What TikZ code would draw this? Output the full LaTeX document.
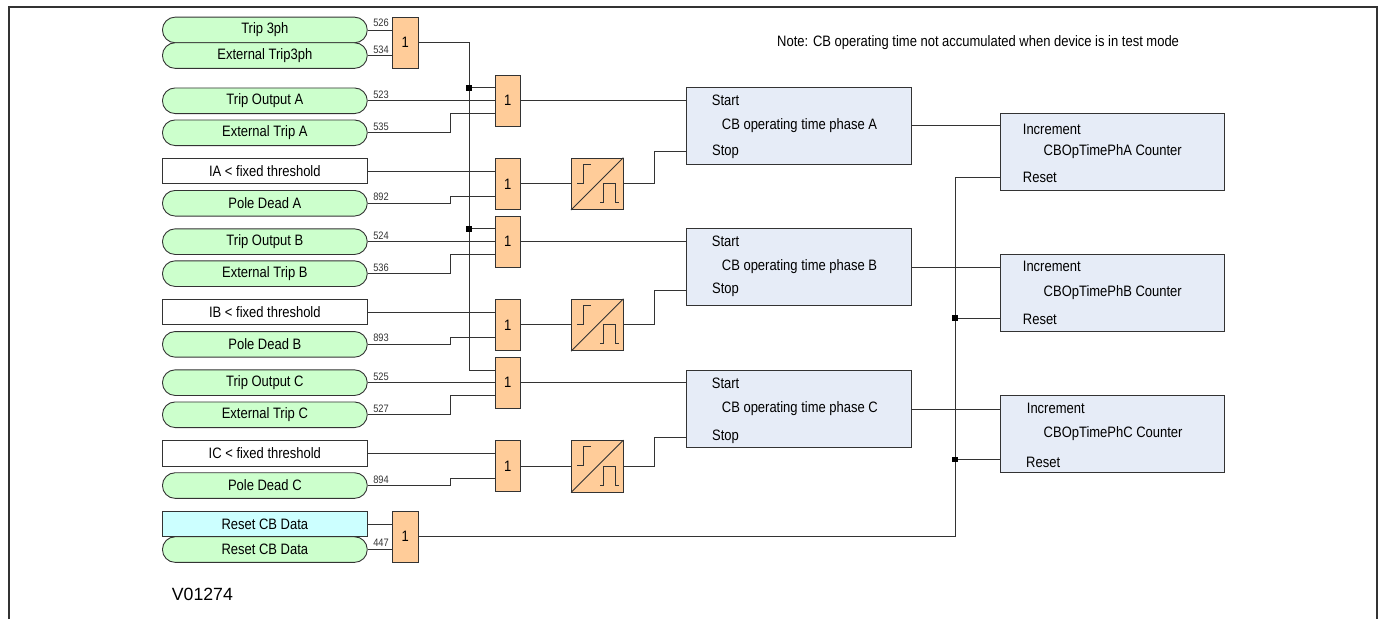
\documentclass[tikz,border=0pt]{standalone}
\usepackage{fontspec}
\setmainfont{Liberation Sans}[FakeStretch=0.86]
\newfontfamily\verfont{Liberation Sans}
\definecolor{ln}{HTML}{333333}
\definecolor{pillg}{HTML}{CCFFCC}
\definecolor{cyanb}{HTML}{CCFFFF}
\definecolor{orng}{HTML}{FFCC99}
\definecolor{blok}{HTML}{E6ECF7}
\newcommand\txtsize{\fontsize{15.1}{17}\selectfont}
\newcommand\swicon[1]{%
  \draw[wire] (#1.south west) -- (#1.north east);
  \draw[wire] ([shift={(6.3,25.7)}]#1.north west) -- ++(6,0) -- ++(0,-19) -- ++(7.4,0);
  \draw[wire] ([shift={(29,45)}]#1.north west) -- ++(3.3,0) -- ++(0,-19) -- ++(11.7,0) -- ++(0,19) -- ++(4.3,0);}
\begin{document}
\begin{tikzpicture}[x=1pt,y=-1pt,
  base/.style={draw=ln,line width=0.9pt,inner sep=0pt,anchor=north west,font=\txtsize},
  pill/.style={base,rounded corners=12.7pt,fill=pillg,minimum width=204.8pt,minimum height=25.6pt},
  whitebox/.style={base,fill=white,minimum width=204.8pt,minimum height=25.6pt},
  cyanbox/.style={base,fill=cyanb,minimum width=204.8pt,minimum height=25.6pt},
  gate/.style={base,fill=orng,minimum width=25.6pt,minimum height=51.2pt},
  swbox/.style={base,fill=orng,minimum width=51.5pt,minimum height=51.5pt},
  block/.style={base,fill=blok,minimum width=224.5pt,minimum height=77pt},
  counter/.style={base,fill=blok,minimum width=224.3pt,minimum height=77.3pt},
  wire/.style={draw=ln,line width=0.9pt},
  dot/.style={fill=black,inner sep=0pt,minimum size=5.5pt},
  num/.style={font=\fontsize{10.8}{12}\selectfont,text=ln,inner sep=0pt},
  lab/.style={font=\txtsize,inner sep=0pt,anchor=west}]
\useasboundingbox (0,0) rectangle (1384,619);
\draw[draw=ln,line width=2pt] (8.5,619) -- (8.5,6.5) -- (1377,6.5) -- (1377,619);
% left column
\node[pill] (t3) at (162,16.7) {Trip 3ph};
\node[pill] (e3) at (162,42.3) {External Trip3ph};
\node[pill] (tA) at (162,87.5) {Trip Output A};
\node[pill] (eA) at (162,119.5) {External Trip A};
\node[whitebox] (iA) at (162,157.7) {IA < fixed threshold};
\node[pill] (pA) at (162,190) {Pole Dead A};
\node[pill] (tB) at (162,228.4) {Trip Output B};
\node[pill] (eB) at (162,260.4) {External Trip B};
\node[whitebox] (iB) at (162,298.8) {IB < fixed threshold};
\node[pill] (pB) at (162,331.1) {Pole Dead B};
\node[pill] (tC) at (162,369.4) {Trip Output C};
\node[pill] (eC) at (162,401.5) {External Trip C};
\node[whitebox] (iC) at (162,440) {IC < fixed threshold};
\node[pill] (pC) at (162,472.3) {Pole Dead C};
\node[pill] (rp) at (162,536.3) {Reset CB Data};
\node[cyanbox] (rb) at (162,510.7) {Reset CB Data};
% gates
\node[gate] (g3) at (392,16.7) {1};
\node[gate] (gA) at (494.5,74.6) {1};
\node[gate] (hA) at (494.5,157.8) {1};
\node[gate] (gB) at (494.5,215.5) {1};
\node[gate] (hB) at (494.5,298.8) {1};
\node[gate] (gC) at (494.5,356.7) {1};
\node[gate] (hC) at (494.5,440) {1};
\node[gate] (gR) at (392,510.7) {1};
% switching elements
\node[swbox] (sA) at (571,157.7) {};
\node[swbox] (sB) at (571,298.8) {};
\node[swbox] (sC) at (571,440) {};
\swicon{sA}\swicon{sB}\swicon{sC}
% blocks
\node[block] (bA) at (686.2,87.3) {};
\node[block] (bB) at (686.2,228.4) {};
\node[block] (bC) at (686.2,369.7) {};
\node[counter] (cA) at (999.8,112.7) {};
\node[counter] (cB) at (999.8,254) {};
\node[counter] (cC) at (999.8,395) {};
% block text
\foreach \n/\l/\sy/\my/\ty in {A/A/100/125.5/151.7,B/B/241.7/267/290,C/C/383/409/437}{
  \node[lab] (st\n) at (711.7,\sy) {Start};
  \node[lab] (md\n) at (721.7,\my) {CB operating time phase \l};
  \node[lab] (sp\n) at (712,\ty) {Stop};
}
\node[lab] (inA) at (1022.7,129) {Increment};
\node[lab] (ctA) at (1043.5,151.7) {CBOpTimePhA Counter};
\node[lab] (reA) at (1022.7,177.7) {Reset};
\node[lab] (inB) at (1022.7,266.7) {Increment};
\node[lab] (ctB) at (1043.5,292.7) {CBOpTimePhB Counter};
\node[lab] (reB) at (1022.7,319) {Reset};
\node[lab] (inC) at (1026.7,408) {Increment};
\node[lab] (ctC) at (1043.5,433.3) {CBOpTimePhC Counter};
\node[lab] (reC) at (1026,462) {Reset};
\node[lab] (note) at (777,43) {Note: CB operating time not accumulated when device is in test mode};
\node[lab,font=\verfont\fontsize{17.7}{20}\selectfont] (ver) at (171.7,594) {V01274};
% numbers
\foreach \nm/\y/\t in {n1/23/526,n2/50/534,n3/94.5/523,n4/127/535,n5/197/892,n6/236/524,n7/268/536,n8/338/893,n9/377/525,n10/409/527,n11/479.5/894,n12/543/447}{
  \node[num] (\nm) at (381,\y) {\t};
}
% input wires
\draw[wire] (t3.east) -- (t3.east -| g3.west);
\draw[wire] (e3.east) -- (e3.east -| g3.west);
\draw[wire] (rb.east) -- (rb.east -| gR.west);
\draw[wire] (rp.east) -- (rp.east -| gR.west);
\foreach \p in {A,B,C}{
  \draw[wire] (t\p.east) -- (t\p.east -| g\p.west);
  \draw[wire] (e\p.east) -- ++(83.2,0) |- ([yshift=-12.8pt]g\p.west);
  \draw[wire] (i\p.east) -- (i\p.east -| h\p.west);
  \draw[wire] (p\p.east) -- ++(83.2,0) |- ([yshift=-12.8pt]h\p.west);
  \draw[wire] (g\p.east) -- (b\p.west |- g\p.east);
  \draw[wire] (h\p.east) -- (h\p.east -| s\p.west);
  \draw[wire] (s\p.east |- h\p.east) -- ++(31.3,0) |- (b\p.west |- sp\p);
  \draw[wire] (b\p.east |- md\p) -- (c\p.west |- md\p);
}
% trip bus
\coordinate (busT) at (469,42.3);
\coordinate (busC) at ([yshift=12.8pt]gC.west -| busT);
\draw[wire] (g3.east) -- (g3.east -| busT) -- (busC) -- ([yshift=12.8pt]gC.west);
\node[dot] (dA) at ([yshift=12.8pt]gA.west -| busT) {};
\node[dot] (dB) at ([yshift=12.8pt]gB.west -| busT) {};
\draw[wire] (dA) -- ([yshift=12.8pt]gA.west);
\draw[wire] (dB) -- ([yshift=12.8pt]gB.west);
% reset bus
\coordinate (busR) at (955,536.3);
\coordinate (rA) at (955,177);
\draw[wire] (gR.east) -- (gR.east -| busR) -- (rA) -- (rA -| cA.west);
\node[dot] (dRB) at (955,318) {};
\node[dot] (dRC) at (955,459.3) {};
\draw[wire] (dRB) -- (dRB -| cB.west);
\draw[wire] (dRC) -- (dRC -| cC.west);
\end{tikzpicture}
\end{document}
